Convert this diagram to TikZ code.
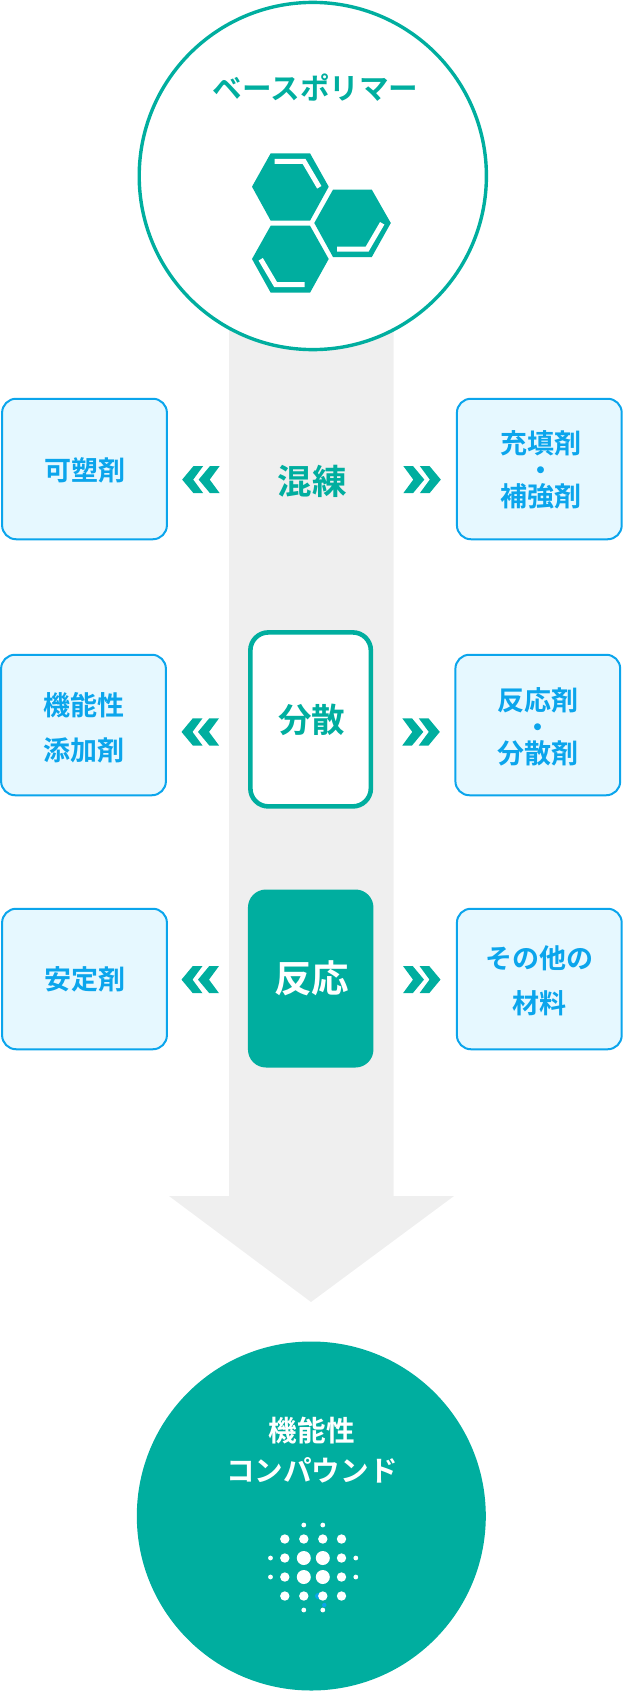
\documentclass[tikz,border=0pt]{standalone}
\usepackage{fontspec}
\setmainfont{Noto Sans CJK JP}[BoldFont=* Bold]
\usetikzlibrary{shapes.geometric}
\definecolor{teal1}{HTML}{00AE9F}
\definecolor{gray1}{HTML}{EFEFEF}
\definecolor{blue1}{HTML}{0BA5EC}
\definecolor{blue2}{HTML}{E6F8FF}
\tikzset{
  sidebox/.style={draw=blue1,fill=blue2,line width=2pt,outer sep=0pt,rounded corners=14pt,minimum width=164.8pt,minimum height=140.5pt,inner sep=0pt},
  boxtext/.style={inner sep=0pt,align=center,text=blue1,font=\bfseries\fontsize{27}{45}\selectfont},
  tighttext/.style={boxtext,font=\bfseries\fontsize{27}{26.5}\selectfont},
  stepoutline/.style={draw=teal1,fill=white,line width=4.6pt,outer sep=0pt,rounded corners=18pt,minimum width=120.5pt,minimum height=174pt,inner sep=0pt},
  stepfill/.style={fill=teal1,outer sep=0pt,rounded corners=18pt,minimum width=125.5pt,minimum height=178pt,inner sep=0pt},
  steptext/.style={text=teal1,inner sep=0pt,font=\bfseries\fontsize{33.5}{40}\selectfont},
  chev/.style={fill=teal1},
  hex/.style={fill=teal1},
  hexline/.style={draw=white,line width=5pt},
  dotl/.style={fill=white,circle,inner sep=0pt,outer sep=0pt,minimum size=14pt},
  dotm/.style={fill=white,circle,inner sep=0pt,outer sep=0pt,minimum size=9.4pt},
  dots/.style={fill=white,circle,inner sep=0pt,outer sep=0pt,minimum size=4.8pt},
}
\newcommand{\chevR}[2]{% left x, top y
  \foreach \dx in {0,16.5}{
    \fill[chev] (#1+\dx,#2) -- ++(9.7,0) -- ++(11.3,13.6) -- ++(-11.3,13.6) -- ++(-9.7,0) -- ++(10,-13.6) -- cycle;
  }}
\newcommand{\chevL}[2]{% right x, top y
  \foreach \dx in {0,16.5}{
    \fill[chev] (#1-\dx,#2) -- ++(-9.7,0) -- ++(-11.3,13.6) -- ++(11.3,13.6) -- ++(9.7,0) -- ++(-10,-13.6) -- cycle;
  }}
\begin{document}
\begin{tikzpicture}[x=1pt,y=-1pt]
\useasboundingbox (0,0) rectangle (622,1691);
% big arrow
\fill[gray1] (229,300) -- (393.5,300) -- (393.5,1196) -- (454,1196) -- (311,1302) -- (169,1196) -- (229,1196) -- cycle;
% top circle
\node[circle,draw=teal1,fill=white,line width=3.4pt,outer sep=0pt,minimum size=347.2pt,inner sep=0pt] (base) at (312.8,176) {};
\node[text=teal1,inner sep=0pt,font=\bfseries\fontsize{29.6}{34}\selectfont] (baselabel) at (315.6,88) {ベースポリマー};
% hexagons
\fill[hex] (270.7,153.3) -- (310,153.3) -- (328.7,186.7) -- (310,220.7) -- (270.7,220.7) -- (252,186.7) -- cycle;
\fill[hex] (270.7,225.7) -- (310,225.7) -- (328.7,259) -- (310,292.7) -- (270.7,292.7) -- (252,259) -- cycle;
\fill[hex] (333,189.7) -- (371.8,189.7) -- (390.8,223) -- (371.8,257) -- (333,257) -- (314.3,223) -- cycle;
\draw[hexline] (274.7,161.3) -- (304,161.3) -- (319.3,187.3);
\draw[hexline] (260.7,259.3) -- (275.7,284.7) -- (304.7,284.7);
\draw[hexline] (337,249) -- (367.2,249) -- (382.2,223.3);
% steps
\node[steptext,font=\bfseries\fontsize{34.5}{40}\selectfont] (mix) at (312.4,481) {混練};
\node[stepoutline] (disp) at (310.6,719.4) {};
\node[steptext,xshift=1.2pt] (dispt) at (disp) {分散};
\node[stepfill] (react) at (310.7,978.5) {};
\node[steptext,text=white,font=\bfseries\fontsize{37.5}{44}\selectfont,xshift=1.2pt] (reactt) at (react) {反応};
% side boxes
\node[sidebox] (b1) at (84.5,469) {};
\node[boxtext,yshift=-1pt] (t1) at (b1) {可塑剤};
\node[sidebox] (b2) at (539.3,469) {};
\node[tighttext,xshift=2pt,yshift=-1pt] (t2) at (b2) {充填剤\\・\\補強剤};
\node[sidebox] (b3) at (83.5,725) {};
\node[boxtext,yshift=-3pt] (t3) at (b3) {機能性\\添加剤};
\node[sidebox] (b4) at (537.8,725) {};
\node[tighttext,xshift=0.5pt,yshift=-2pt] (t4) at (b4) {反応剤\\・\\分散剤};
\node[sidebox] (b5) at (84.5,979) {};
\node[boxtext] (t5) at (b5) {安定剤};
\node[sidebox] (b6) at (539.3,979) {};
\node[boxtext,xshift=0.5pt,yshift=-2pt] (t6) at (b6) {その他の\\材料};
% chevrons
\chevL{219.7}{466}\chevR{403.3}{466}
\chevL{219}{718.3}\chevR{402.3}{718.3}
\chevL{219}{966}\chevR{403}{966}
% bottom circle
\node[circle,fill=teal1,outer sep=0pt,minimum size=349pt,inner sep=0pt] (result) at (311.3,1516) {};
\node[text=white,inner sep=0pt,font=\bfseries\fontsize{28.6}{34}\selectfont] (r1) at (311.8,1431) {機能性};
\node[text=white,inner sep=0pt,font=\bfseries\fontsize{28.6}{34}\selectfont] (r2) at (311.8,1470) {コンパウンド};
% dot grid
\fill[blue1] (318,1596) circle (3);
\fill[blue1] (324.3,1605) circle (2.2);
\foreach \x/\y/\s [count=\i] in {303.8/1525/dots,322.8/1525/dots,
  284.8/1539/dotm,303.8/1539/dotm,322.8/1539/dotm,341.5/1539/dotm,
  270.5/1558/dots,284.8/1558/dotm,303.8/1558/dotl,322.8/1558/dotl,341.5/1558/dotm,355.8/1558/dots,
  270.5/1577/dots,284.8/1577/dotm,303.8/1577/dotl,322.8/1577/dotl,341.5/1577/dotm,355.8/1577/dots,
  284.8/1596/dotm,303.8/1596/dotm,322.8/1596/dotm,341.5/1596/dotm,
  303.8/1610/dots,322.8/1610/dots}
  \node[\s] (d\i) at (\x,\y) {};
\end{tikzpicture}
\end{document}
